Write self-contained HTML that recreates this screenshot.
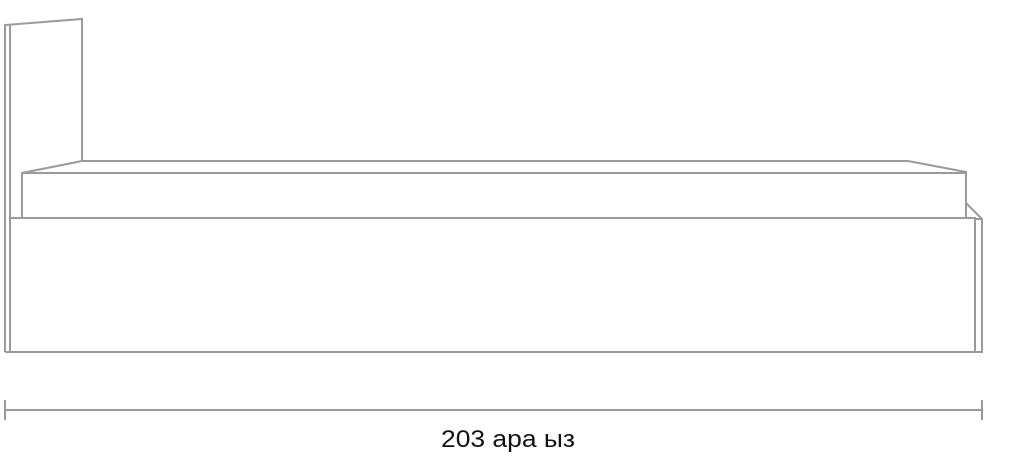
<!DOCTYPE html>
<html><head><meta charset="utf-8"><style>
html,body{margin:0;padding:0;background:#fff;}
svg{display:block;}
</style></head><body>
<svg width="1020" height="456" viewBox="0 0 1020 456" xmlns="http://www.w3.org/2000/svg">
<g fill="none" stroke="#9a9a9a" stroke-width="2">
<polyline points="5,352 5,25 82,19 82,161"/>
<line x1="10" y1="24" x2="10" y2="352"/>
<polyline points="22,218 22,173 82,161 908,161 966,172 966,218"/>
<line x1="22" y1="173" x2="966" y2="173"/>
<rect x="10" y="218" width="965" height="134"/>
<polyline points="966,203 982,219 982,352 975,352"/>
<line x1="975" y1="219" x2="982" y2="219"/>
<line x1="5" y1="352" x2="10" y2="352"/>
<line x1="5" y1="410" x2="982" y2="410"/>
<line x1="5" y1="400" x2="5" y2="420"/>
<line x1="982" y1="400" x2="982" y2="420"/>
</g>
<text x="441" y="447" font-family="Liberation Sans, DejaVu Sans, sans-serif" font-size="24" fill="#111" textLength="134" lengthAdjust="spacingAndGlyphs">203  ара ыз</text>
</svg>
</body></html>
